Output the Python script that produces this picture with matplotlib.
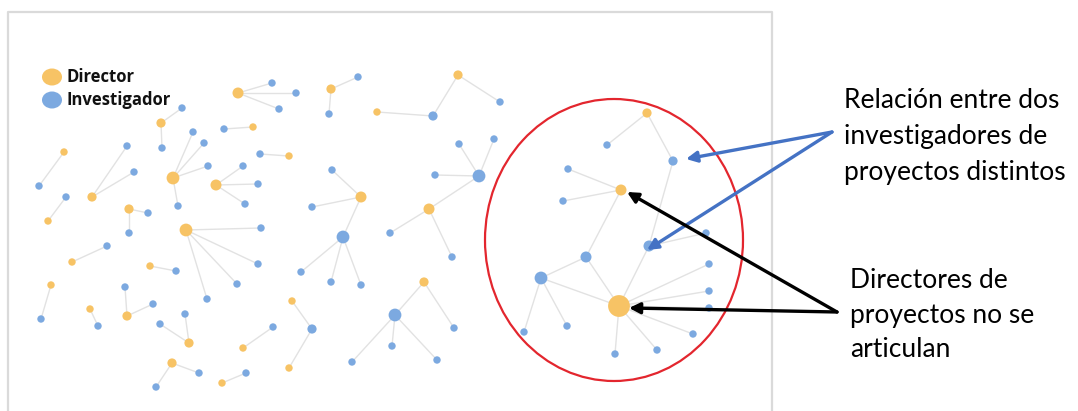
import numpy as np
import matplotlib.pyplot as plt
from matplotlib.patches import Ellipse

# node layout (pixel coords, y down)
node_x = [238, 272, 296, 279, 161, 182, 162, 224, 253, 173, 193, 204, 208, 178,
          64, 39, 92, 127, 134, 66, 48, 216, 243, 258, 245, 260, 289, 129, 148, 129,
          186, 261, 258, 237, 207, 107, 72, 150, 176, 51, 41, 127, 125, 153, 90, 98,
          189, 185, 160, 243, 273, 172, 199, 156, 222, 246,
          331, 358, 329, 377, 433, 458, 500, 361, 332, 312, 343, 301, 331, 361,
          479, 459, 494, 435, 429, 390, 452, 424, 395, 454, 352, 392, 437, 292, 312, 289,
          647, 607, 673, 649, 706, 621, 568, 563, 586, 541, 524, 567,
          619, 709, 709, 709, 693, 657, 615]
node_y = [93, 83, 93, 109, 123, 108, 148, 129, 127, 178, 132, 143, 166, 206,
          152, 186, 197, 146, 172, 197, 221, 185, 166, 184, 204, 154, 156, 209, 213, 233,
          230, 228, 264, 284, 299, 246, 262, 266, 271, 285, 319, 316, 287, 304, 309, 326,
          343, 314, 324, 348, 327, 363, 373, 387, 383, 373,
          89, 77, 114, 112, 116, 75, 102, 197, 170, 207, 237, 272, 282, 285,
          176, 144, 139, 175, 209, 233, 257, 282, 315, 328, 362, 346, 360, 301, 329, 368,
          113, 145, 161, 246, 233, 190, 169, 201, 257, 278, 332, 326,
          306, 264, 291, 308, 334, 350, 354]
# D = director, I = investigador
node_role = list("DIIIDIIIDDIIII" "DIDIIIDDIIIIDDII"
                 "DIIIIIDDIDIDIIDI" "DIIDIDIIDI"
                 "DIIDIDIDIIIIII" "IIIIDIIDIIIIIDID"
                 "DIIIIDIIIIII" "DIIIIII")

edges = [(0, 1), (0, 2), (0, 3), (4, 5), (4, 6), (7, 8), (9, 10), (9, 11), (9, 12), (9, 13),
         (14, 15), (16, 17), (16, 18), (19, 20), (21, 22), (21, 23), (21, 24), (25, 26),
         (27, 28), (27, 29), (30, 31), (30, 32), (30, 33), (30, 34), (35, 36), (37, 38),
         (39, 40), (41, 42), (41, 43), (44, 45), (46, 47), (46, 48), (49, 50), (51, 52),
         (51, 53), (54, 55),
         (56, 57), (56, 58), (59, 60), (60, 61), (61, 62), (63, 64), (63, 65), (63, 66),
         (66, 67), (66, 68), (66, 69), (70, 71), (70, 72), (70, 73), (70, 74), (74, 75),
         (74, 76), (77, 78), (77, 79), (78, 80), (78, 81), (78, 82), (83, 84), (84, 85),
         (86, 87), (86, 88), (88, 89), (89, 90), (91, 92), (91, 93), (91, 94), (94, 95),
         (95, 96), (95, 97), (98, 89), (98, 94), (98, 95), (98, 99), (98, 100), (98, 101),
         (98, 102), (98, 103), (98, 104)]

legend_labels = ["Director", "Investigador"]
note_top = "Relación entre dos\ninvestigadores de\nproyectos distintos"
note_bottom = "Directores de\nproyectos no se\narticulan"

ORANGE = "#F7C365"
BLUE = "#7CA9E0"

W, H = 1078, 411
fig = plt.figure(figsize=(W / 100, H / 100), dpi=100)
ax = fig.add_axes([0, 0, 1, 1])
ax.set_xlim(0, W)
ax.set_ylim(H, 0)
ax.axis("off")

# panel frame
ax.plot([8, 8, 772, 772], [H + 5, 12, 12, H + 5], color="#DADADA", lw=1.6, zorder=0)

x = np.array(node_x)
y = np.array(node_y)
deg = np.zeros(len(x))
for a, b in edges:
    ax.plot([x[a], x[b]], [y[a], y[b]], color="#E2E2E2", lw=1.0, zorder=1)
    deg[a] += 1
    deg[b] += 1

diam_px = 5.6 + 1.8 * deg
sizes = (diam_px * 0.72) ** 2
colors = [ORANGE if r == "D" else BLUE for r in node_role]
ax.scatter(x, y, s=sizes, c=colors, linewidths=0, zorder=2)

# legend
for i, (lab, col) in enumerate(zip(legend_labels, [ORANGE, BLUE])):
    ax.add_patch(Ellipse((52, 77 + 23 * i), 20, 17, color=col, lw=0, zorder=3))
    ax.text(67, 77 + 23 * i, lab, fontsize=12, fontweight="bold", family="Open Sans",
            va="center", ha="left", color="#111111")

# highlight ellipse
ax.add_patch(Ellipse((614, 240), 258, 282, fill=False, ec="#E3262E", lw=1.6, zorder=3))

# annotations
arrow_blue = dict(arrowstyle="-|>", color="#4472C4", lw=2.4, mutation_scale=16,
                  shrinkA=0, shrinkB=0)
arrow_black = dict(arrowstyle="-|>", color="black", lw=2.4, mutation_scale=16,
                   shrinkA=0, shrinkB=0)
for tx, ty in [(686, 159), (647, 250)]:
    ax.annotate("", xy=(tx, ty), xytext=(832, 132), arrowprops=arrow_blue, zorder=4)
for tx, ty in [(627, 192), (629, 308)]:
    ax.annotate("", xy=(tx, ty), xytext=(837, 312), arrowprops=arrow_black, zorder=4)

ax.text(844, 136, note_top, fontsize=19, family="Lato", va="center", ha="left",
        linespacing=1.55, color="black")
ax.text(850, 315, note_bottom, fontsize=19, family="Lato", va="center", ha="left",
        linespacing=1.47, color="black")

fig.savefig("out.png", dpi=100)
